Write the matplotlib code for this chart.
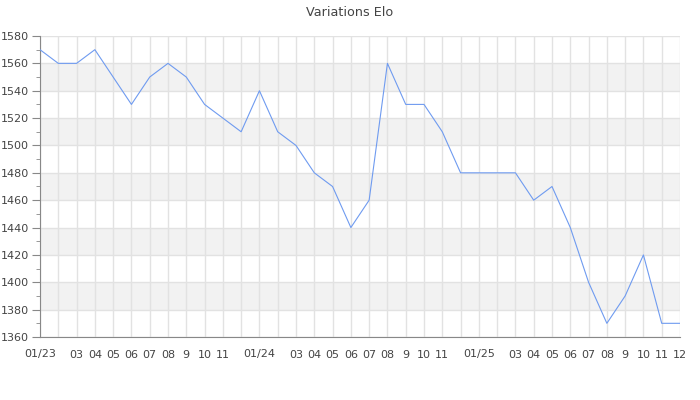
import matplotlib
matplotlib.use("Agg")
import matplotlib.pyplot as plt

# Monthly Elo values, 01/2023 -> 12/2025
months = list(range(36))
elo = [1570, 1560, 1560, 1570, 1550, 1530, 1550, 1560, 1550, 1530, 1520, 1510,
       1540, 1510, 1500, 1480, 1470, 1440, 1460, 1560, 1530, 1530, 1510, 1480,
       1480, 1480, 1480, 1460, 1470, 1440, 1400, 1370, 1390, 1420, 1370, 1370]
tick_labels = ["01/23", "", "03", "04", "05", "06", "07", "08", "9", "10", "11", "",
               "01/24", "", "03", "04", "05", "06", "07", "08", "9", "10", "11", "",
               "01/25", "", "03", "04", "05", "06", "07", "08", "9", "10", "11", "12"]
bands = [(1380, 1400), (1420, 1440), (1460, 1480), (1500, 1520), (1540, 1560)]

fig = plt.figure(figsize=(7, 4), dpi=100)
ax = fig.add_axes([40 / 700, 63 / 400, 640 / 700, 301 / 400])

for lo, hi in bands:
    ax.axhspan(lo, hi, color="#f2f2f2", zorder=0, lw=0)

ax.plot(months, elo, color="#6f9bf0", lw=0.8, zorder=3)

ax.set_xlim(0, 35)
ax.set_ylim(1360, 1580)
ax.set_xticks(months)
ax.set_xticklabels(tick_labels)
ax.set_yticks(range(1360, 1581, 20))
ax.set_yticks(range(1360, 1581, 10), minor=True)
ax.grid(True, which="major", color="#e2e2e2", lw=1, zorder=1)
ax.set_axisbelow(True)

for s in ["top", "right"]:
    ax.spines[s].set_visible(False)
for s in ["left", "bottom"]:
    ax.spines[s].set_color("#888888")
ax.tick_params(axis="x", length=0, pad=9, labelsize=8, labelcolor="#444444")
ax.tick_params(axis="y", which="major", length=6, color="#888888", labelsize=8, labelcolor="#444444", pad=2)
ax.tick_params(axis="y", which="minor", length=3, color="#888888")

fig.text(0.5, 1 - 12 / 400, "Variations Elo", ha="center", va="center", fontsize=9.2, color="#444444")

fig.savefig("out.png", dpi=100)
